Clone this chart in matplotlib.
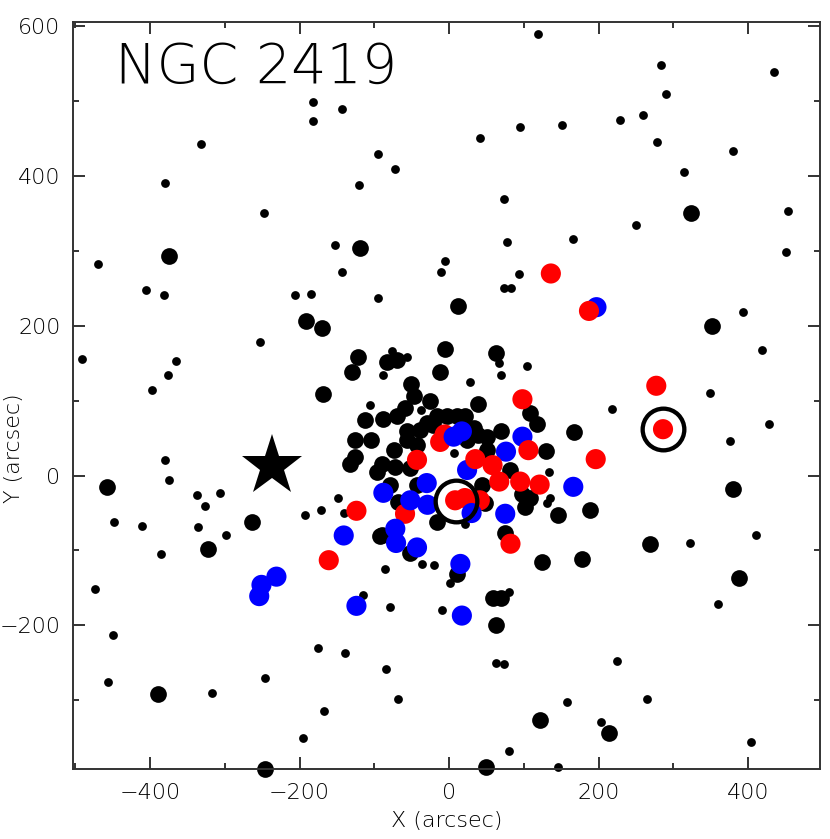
import numpy as np
import matplotlib
matplotlib.use("Agg")
from matplotlib import pyplot as plt
from matplotlib.ticker import MultipleLocator

# field stars, small symbols
small_x = [-182, -182, -332, -380, -248, -469,
           -143, 95, 151, 41, -95, -72, -120, 73, -152, 78, 165, -5, 119,
           -143, -11, 93, 73, 83, -95,
           283, 434, 290, 259, 229, 278, 380, 314, 453, 250, 451,
           393, 418, 349, 218, 428, 376,
           -406, -381, -206, -185, -253, -491, -365, -376, -398,
           -380, -375, -337, -306, -327, -448, -411, -336, -193, -171,
           -299, -386, -474, -449, -176, -456, -317, -246, -167, -196,
           -148, -141,
           -86, -36, -20, 1, -115, -79, -10, 80, -139, -85, 62, 73, -68, 157, 80, 145, 21,
           322, 410, 359, 224, 265, 203, 404,
           -77, -57, -88, 67, 104, 70, 28, -106, -38, 6, 134, 135, 131]
small_y = [499, 474, 443, 391, 351, 283,
           490, 466, 468, 451, 429, 409, 388, 370, 308, 312, 316, 287, 590,
           272, 272, 269, 250, 250, 237,
           549, 539, 510, 482, 475, 446, 434, 405, 354, 335, 299,
           219, 168, 110, 89, 69, 46,
           248, 241, 241, 243, 178, 156, 153, 134, 115,
           21, -6, -26, -23, -41, -62, -68, -69, -53, -46,
           -80, -105, -152, -213, -230, -276, -290, -271, -314, -351,
           -30, -50,
           -125, -118, -120, -144, -160, -175, -179, -156, -237, -259, -251, -252, -299, -302, -368, -389, -64,
           -90, -80, -171, -248, -298, -329, -356,
           167, 158, 134, 150, 146, 135, 125, 94, 87, 30, 5, -30, -37]

# field stars, large symbols
big_x = [-375, -119, 323, 352, -192, -170, -169, -458, -263, -322, -390, -246, 12, 167, 379, 188,
         -122, -130, -83, -70, -6, -12, 63, -51, -47, -25, -59, -70, -113, -88,
         -16, -3, 10, 21, -30, -21, -57, -39, -126, -104, -57, -43, -126, -132,
         -74, -97, -90, -72, -52, -79, -68, -43, -16, -90,
         39, 108, 118, 33, 70, 50, 39, 24, 130, 50, 82, 97, 108, 102, 145, 44, 48, 75,
         178, 124, -92, -52, 10, 59, 70, 62, 121, 49, 268, 387, 214]
big_y = [294, 304, 351, 200, 207, 197, 109, -15, -62, -98, -292, -392, 226, 58, -18, -46,
         159, 138, 152, 155, 169, 138, 164, 122, 106, 100, 90, 79, 74, 75,
         79, 79, 79, 79, 70, 68, 59, 61, 48, 47, 48, 41, 25, 16,
         34, 5, 16, 12, 10, -13, -35, -13, -62, -80,
         95, 83, 69, 63, 59, 52, 54, 48, 33, 34, 8, -24, -30, -42, -53, -13, -37, -77,
         -112, -116, -81, -103, -131, -163, -163, -200, -327, -389, -92, -137, -344]

# coloured members (drawn in this order)
mem_x = [197, 24, 98, 76,
         187, 136, 277, 286, 196, 98, -12, -6, -43, 35, 58, 67, 95, 121, 106, 8, 21, 41, -59, -124, 82, -161,
         166, 6, 17, -30, -88, -52, -29, 30, 75, -141, -72, -71, -43, 15, -124, 17, -231, -251, -254]
mem_y = [225, 7.5, 52, 32,
         220, 270, 120, 62, 22, 102, 45, 55, 21, 22, 14, -8, -8, -12, 34, -33, -30, -33, -51, -47, -91, -113,
         -15, 52, 59, -10, -23, -33, -39, -50, -51, -80, -71, -90, -96, -118, -174, -187, -135, -146, -161]
mem_col = ["b"] * 4 + ["r"] * 22 + ["b"] * 19

ring_x = [9, 286]
ring_y = [-34, 62]
bright_x = [-237]
bright_y = [13]

colours = {"r": "#ff0000", "b": "#0000ff"}

fig = plt.figure(figsize=(8.3, 8.39), dpi=100)
ax = fig.add_axes([0.088, 0.0834, 0.9, 0.8904])

ax.scatter(small_x, small_y, s=40, c="black", linewidths=0, clip_on=False, zorder=2)
ax.scatter(big_x, big_y, s=145, c="black", linewidths=0, clip_on=False, zorder=2)
ax.scatter(mem_x, mem_y, s=210, c=[colours[k] for k in mem_col], linewidths=0, zorder=3)
ax.plot(ring_x, ring_y, "o", ms=30, mfc="none", mec="black", mew=3.1, zorder=4)
ax.plot(bright_x, bright_y, "*", ms=46, color="black", mew=0, zorder=4)

ax.set_xlim(-503, 496)
ax.set_ylim(-392, 606)

ax.xaxis.set_major_locator(MultipleLocator(200))
ax.xaxis.set_minor_locator(MultipleLocator(100))
ax.yaxis.set_major_locator(MultipleLocator(200))
ax.yaxis.set_minor_locator(MultipleLocator(100))
ax.tick_params(which="both", direction="in", top=True, right=True, width=1.4, color="#333333")
ax.tick_params(which="major", length=8.5)
ax.tick_params(which="minor", length=4.3)
ax.tick_params(axis="x", pad=10)
ax.tick_params(axis="y", pad=9)
for lab in ax.get_xticklabels() + ax.get_yticklabels():
    lab.set_fontsize(16)
    lab.set_fontweight("light")
for sp in ax.spines.values():
    sp.set_linewidth(1.4)
    sp.set_color("#333333")

ax.set_xlabel("X (arcsec)", fontsize=16, fontweight="light", labelpad=6)
ax.set_ylabel("Y (arcsec)", fontsize=16, fontweight="light")
ax.yaxis.set_label_coords(-0.066, 0.43)

# title placed in figure inches from the bottom-left corner
fig.text(115 / 830, (839 - 83) / 839, "NGC 2419", fontsize=40, fontweight="light",
         va="baseline", ha="left")

fig.savefig("out.png", dpi=100)
